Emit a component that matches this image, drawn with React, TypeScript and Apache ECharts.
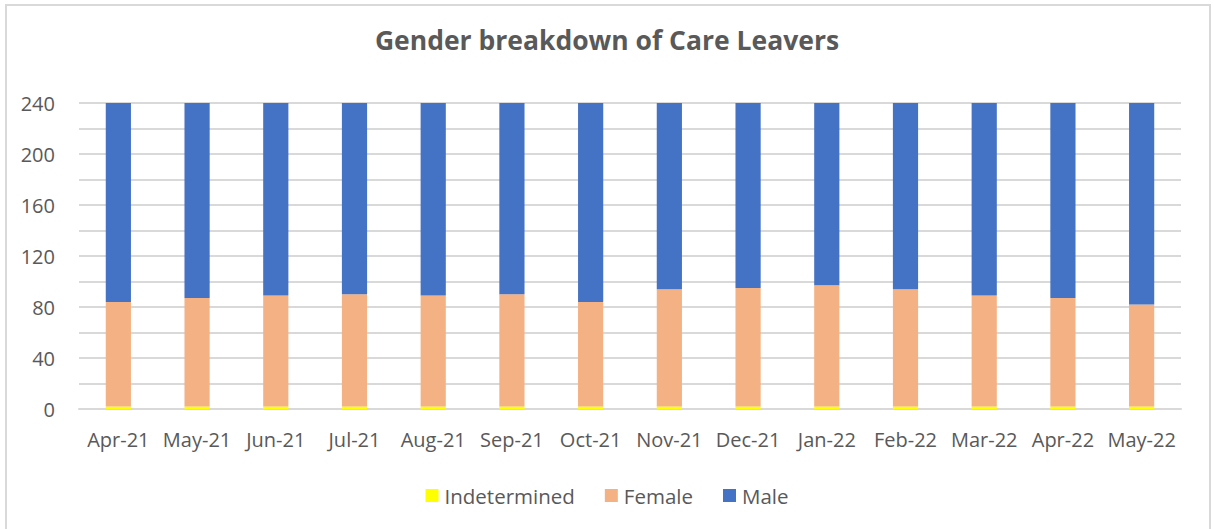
import React, { useEffect, useRef } from "react";
import * as echarts from "echarts";

const categories = ["Apr-21", "May-21", "Jun-21", "Jul-21", "Aug-21", "Sep-21", "Oct-21", "Nov-21", "Dec-21", "Jan-22", "Feb-22", "Mar-22", "Apr-22", "May-22"];
const indetermined = [2, 2, 2, 2, 2, 2, 2, 2, 2, 2, 2, 2, 2, 2];
const female = [82, 85, 87, 88, 87, 88, 82, 92, 93, 95, 92, 87, 85, 80];
const male = [156, 153, 151, 150, 151, 150, 156, 146, 145, 143, 146, 151, 153, 158];
const yTicks = [0, 40, 80, 120, 160, 200, 240];

const FONT = "Open Sans";
const TEXT = "#595959";

export default function App() {
  const ref = useRef<HTMLDivElement>(null);
  useEffect(() => {
    if (!ref.current) return;
    const chart = echarts.init(ref.current, null, { renderer: "svg" });
    chart.setOption({
      animation: false,
      backgroundColor: "#ffffff",
      textStyle: { fontFamily: FONT },
      title: {
        text: "Gender breakdown of Care Leavers",
        left: "center",
        top: 21,
        textStyle: { fontFamily: FONT, fontWeight: "bold", fontSize: 26.5, color: TEXT },
      },
      graphic: [
        {
          type: "rect",
          shape: { x: 6, y: 5, width: 1204, height: 540 },
          style: { fill: "none", stroke: "#d9d9d9", lineWidth: 2 },
          silent: true,
          z: -1,
        },
      ],
      legend: {
        bottom: 18,
        left: "center",
        itemWidth: 13,
        itemHeight: 13,
        itemGap: 30,
        icon: "rect",
        textStyle: { fontFamily: FONT, fontSize: 20.5, color: TEXT, padding: [0, 0, 0, 1] },
        data: ["Indetermined", "Female", "Male"],
      },
      grid: { left: 79, right: 33, top: 103, bottom: 120, containLabel: false },
      xAxis: {
        type: "category",
        data: categories,
        axisLine: { show: true, lineStyle: { color: "#d9d9d9", width: 2 } },
        axisTick: { show: false },
        axisLabel: { fontFamily: FONT, fontSize: 20, color: TEXT, margin: 20, interval: 0 },
      },
      yAxis: {
        type: "value",
        min: 0,
        max: 240,
        interval: 20,
        axisLine: { show: false },
        axisTick: { show: false },
        splitLine: { lineStyle: { color: "#d9d9d9", width: 2 } },
        axisLabel: {
          fontFamily: FONT,
          fontSize: 20,
          color: TEXT,
          margin: 24,
          formatter: (v: number) => (yTicks.includes(v) ? String(v) : ""),
        },
      },
      series: [
        { name: "Indetermined", type: "bar", stack: "g", data: indetermined, barWidth: "32%", itemStyle: { color: "#FFFF00" } },
        { name: "Female", type: "bar", stack: "g", data: female, barWidth: "32%", itemStyle: { color: "#F4B183" } },
        { name: "Male", type: "bar", stack: "g", data: male, barWidth: "32%", itemStyle: { color: "#4472C4" } },
      ],
    });
    return () => chart.dispose();
  }, []);
  return <div ref={ref} style={{ position: "absolute", left: 0, top: 0, width: 1214, height: 529 }} />;
}
